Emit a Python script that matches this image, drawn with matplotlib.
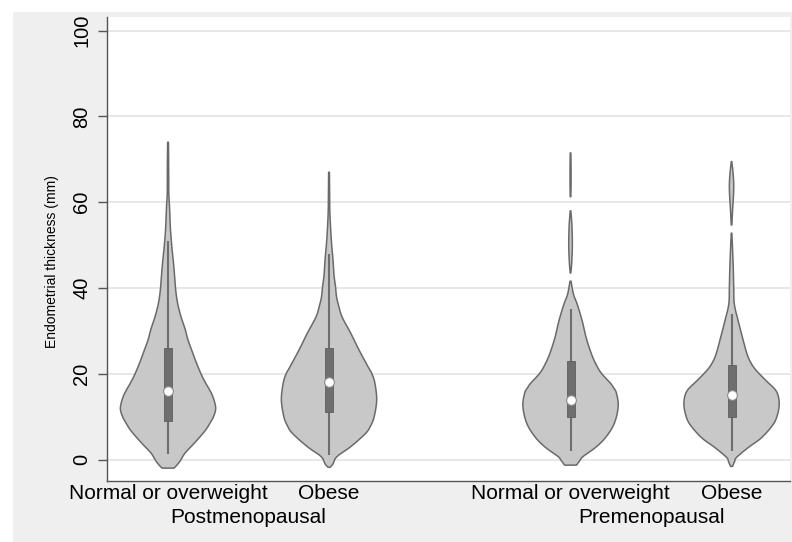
import numpy as np
import matplotlib
matplotlib.use("Agg")
import matplotlib.pyplot as plt
from matplotlib.patches import Rectangle
import matplotlib.transforms as mtransforms

plt.rcParams['font.family'] = ['Liberation Sans', 'DejaVu Sans']

# ---------------- data ----------------
categories = ["Normal or overweight", "Obese", "Normal or overweight", "Obese"]
groups = ["Postmenopausal", "Premenopausal"]
positions = [1, 2, 3.5, 4.5]

# density profiles: list of segments, each (values in mm, relative density)
post_normal_y = [-2.0, -1.0, 0.0, 1.5, 3.5, 5.3, 7.0, 8.5, 10.0, 12.0, 14.6, 16.5, 17.9, 20.0,
                 22.5, 25.0, 27.9, 30.5, 33.3, 36.0, 38.0, 40.0, 43.0, 45.8, 49.7, 53.5, 56.0,
                 59.0, 62.0, 66.0, 70.0, 74.0]
post_normal_d = [6, 10, 13, 17, 25, 32, 38, 42, 45.5, 47.7, 45, 41, 37.5, 33,
                 28.5, 24.5, 20, 17, 13, 10, 8.5, 7.5, 6.5, 5.5, 3.8, 2.5, 2,
                 1.5, 0.8, 0.7, 0.6, 0.4]

post_obese_y = [-1.8, -1.0, 0.7, 3.0, 6.1, 8.0, 10.0, 13.9, 17.8, 20.0, 21.7, 25.6, 29.5,
                33.3, 36.0, 38.0, 40.3, 43.0, 46.5, 50.5, 54.3, 58.0, 62.0, 67.0]
post_obese_d = [1, 4, 8, 21.7, 36.7, 42, 45.3, 47.8, 46, 43, 39, 30, 21.7,
                13, 9.5, 7.5, 6.5, 5, 4, 2.5, 1.5, 0.8, 0.6, 0.4]

pre_normal_y1 = [-1.3, 0.0, 0.7, 3.0, 5.4, 8.5, 12.4, 15.5, 16.8, 17.8, 20.1, 22.0, 24.6,
                 28.4, 32.3, 36.2, 38.5, 41.6]
pre_normal_d1 = [6, 10, 12.5, 26, 36, 44, 47.8, 46, 43, 40, 31, 26, 21,
                 15.7, 11.7, 6.7, 3, 0.5]
pre_normal_y2 = [43.5, 46.0, 50.0, 54.0, 56.0, 58.0]
pre_normal_d2 = [0.3, 1.2, 1.8, 1.5, 1.0, 0.3]
pre_normal_y3 = [61.3, 64.0, 68.0, 71.5]
pre_normal_d3 = [0.3, 0.5, 0.5, 0.3]

pre_obese_y1 = [-1.6, -0.5, 0.5, 2.8, 5.1, 8.2, 10.5, 12.9, 15.0, 16.5, 18.3, 20.7, 22.5,
                24.6, 28.4, 32.3, 36.2, 40.1, 44.0, 48.0, 52.8]
pre_obese_d1 = [1, 3, 5, 16.7, 30, 41.7, 46, 47.7, 46.5, 43, 35, 25, 19.5,
                15.5, 11, 6.7, 2.8, 2.2, 1.8, 1.2, 0.3]
pre_obese_y2 = [54.7, 58.0, 61.0, 63.6, 66.0, 68.0, 69.5]
pre_obese_d2 = [0.3, 1.0, 1.8, 2.2, 1.8, 1.0, 0.2]

violins = [
    [(post_normal_y, post_normal_d)],
    [(post_obese_y, post_obese_d)],
    [(pre_normal_y1, pre_normal_d1), (pre_normal_y2, pre_normal_d2), (pre_normal_y3, pre_normal_d3)],
    [(pre_obese_y1, pre_obese_d1), (pre_obese_y2, pre_obese_d2)],
]

# box statistics: lower adjacent, q1, median, q3, upper adjacent
whisker_lo = [1.3, 1.1, 1.9, 2.0]
q1 = [9.0, 11.0, 10.0, 10.0]
medians = [16.0, 18.0, 14.0, 15.0]
q3 = [26.0, 26.0, 23.0, 22.0]
whisker_hi = [51.0, 48.0, 35.0, 34.0]

yticks = [0, 20, 40, 60, 80, 100]
ylabel = "Endometrial thickness (mm)"

# ---------------- styling ----------------
FILL = "#c8c8c8"
EDGE = "#6a6a6a"
BOXC = "#6e6e6e"
GRID = "#e6e6e6"
BG = "#efefef"
HALF_MAX = 0.296   # half width of widest violin in x units
BOX_HALF = 0.025


def catmull(pts, n=10):
    P = np.vstack([pts[0], pts, pts[-1]])
    out = []
    t = np.linspace(0, 1, n, endpoint=False)[:, None]
    for i in range(1, len(P) - 2):
        p0, p1, p2, p3 = P[i - 1], P[i], P[i + 1], P[i + 2]
        out.append(0.5 * ((2 * p1) + (-p0 + p2) * t + (2 * p0 - 5 * p1 + 4 * p2 - p3) * t ** 2
                          + (-p0 + 3 * p1 - 3 * p2 + p3) * t ** 3))
    out.append(P[-2][None])
    return np.vstack(out)


fig = plt.figure(figsize=(7.92, 5.42), dpi=100)
fig.patch.set_facecolor("white")
fig.patches.append(Rectangle((13 / 792, 0), 779 / 792, 1 - 12 / 542, transform=fig.transFigure,
                             facecolor=BG, edgecolor="none", zorder=-10))

ax = fig.add_axes([107 / 792, 1 - 481 / 542, 683 / 792, 464 / 542])
ax.set_facecolor("white")
ax.set_xlim(0.621, 4.863)
ax.set_ylim(-5.0, 103.2)

for yt in yticks:
    ax.axhline(yt, color=GRID, lw=1.3, zorder=0)

for pos, segs in zip(positions, violins):
    dmax = max(max(d) for _, d in segs)
    for ys, ds in segs:
        pts = np.column_stack([ys, ds])
        sm = catmull(pts)
        yy = sm[:, 0]
        ww = np.clip(sm[:, 1], 0.15, None) / dmax * HALF_MAX
        xs = np.concatenate([pos - ww, (pos + ww)[::-1]])
        ys_ = np.concatenate([yy, yy[::-1]])
        ax.fill(xs, ys_, facecolor=FILL, edgecolor=EDGE, lw=1.1, zorder=2, joinstyle="round")

for i, pos in enumerate(positions):
    ax.plot([pos, pos], [whisker_lo[i], whisker_hi[i]], color=BOXC, lw=1.5, zorder=3,
            solid_capstyle="butt")
    ax.add_patch(Rectangle((pos - BOX_HALF, q1[i]), 2 * BOX_HALF, q3[i] - q1[i],
                           facecolor=BOXC, edgecolor="#5e5e5e", lw=0.6, zorder=4))
    ax.plot([pos], [medians[i]], marker="o", ms=7, mfc="white", mec="#8a8a8a", mew=0.8, zorder=5)

for s in ["top", "right"]:
    ax.spines[s].set_visible(False)
ax.spines["left"].set_color("#555555")
ax.spines["bottom"].set_color("#555555")
ax.spines["left"].set_linewidth(1.0)
ax.spines["bottom"].set_linewidth(1.0)

ax.set_yticks(yticks)
ax.set_yticklabels([str(v) for v in yticks], rotation=90, va="center", fontsize=14.5)
ax.tick_params(axis="y", length=6.5, width=1.0, color="#555555", pad=5, labelcolor="black")

ax.set_xticks(positions)
ax.set_xticklabels(categories, fontsize=15)
ax.tick_params(axis="x", length=0, pad=2.5, labelcolor="black")

trans = mtransforms.blended_transform_factory(ax.transData, ax.transAxes)
ax.text((positions[0] + positions[1]) / 2, -0.058, groups[0], transform=trans,
        ha="center", va="top", fontsize=15)
ax.text((positions[2] + positions[3]) / 2, -0.058, groups[1], transform=trans,
        ha="center", va="top", fontsize=15)

ax.text(-0.0804, 0.472, ylabel, transform=ax.transAxes, rotation=90, ha="center",
        va="center", fontsize=10)

fig.savefig("out.png", dpi=100)
